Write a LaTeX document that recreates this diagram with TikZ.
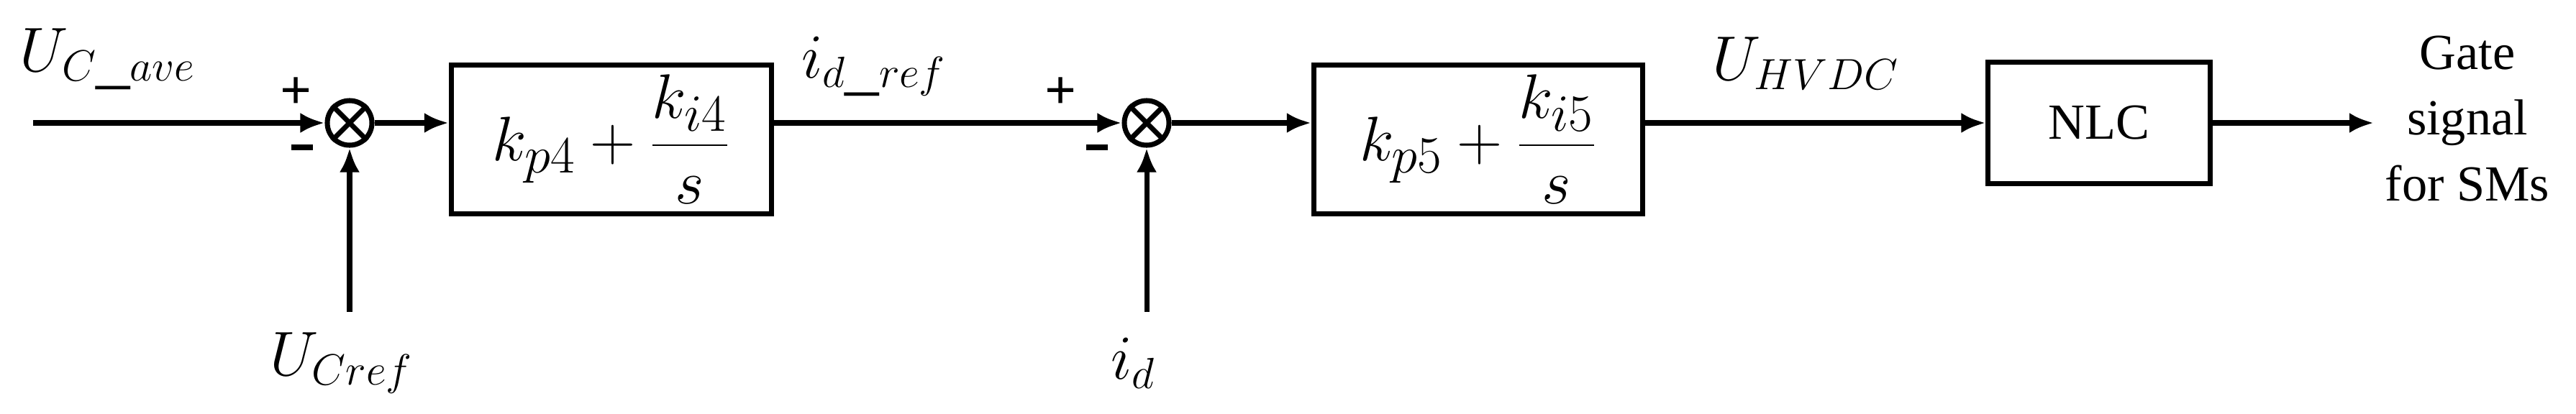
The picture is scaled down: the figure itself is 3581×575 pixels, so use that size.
\documentclass[tikz,border=0pt]{standalone}
\usepackage{fontspec}
\setmainfont{Liberation Serif}
\usetikzlibrary{arrows.meta}
\begin{document}
\begin{tikzpicture}[x=0.01cm,y=-0.01cm,
  line width=2pt,
  arr/.style={-{Latex[length=0.34cm,width=0.28cm]}},
  blk/.style={draw,line width=2pt,inner sep=0pt},
  sumc/.style={draw,circle,minimum size=0.62cm,inner sep=0pt,line width=2pt},
  lbl/.style={font=\fontsize{27}{30}\selectfont},
  sgn/.style={font=\bfseries\fontsize{22}{26}\selectfont}]
\useasboundingbox (0,0) rectangle (3581,575);
\node[sumc] (s1) at (486,171) {};
\draw (s1.45)--(s1.225) (s1.135)--(s1.-45);
\node[sumc] (s2) at (1594,171) {};
\draw (s2.45)--(s2.225) (s2.135)--(s2.-45);
\node[blk,minimum width=4.45cm,minimum height=2.06cm] (b1) at (850,194)
  {\fontsize{29}{32}\selectfont $\displaystyle k_{p4}+\frac{k_{i4}}{s}$};
\node[blk,minimum width=4.57cm,minimum height=2.06cm] (b2) at (2055,194)
  {\fontsize{29}{32}\selectfont $\displaystyle k_{p5}+\frac{k_{i5}}{s}$};
\node[blk,minimum width=3.08cm,minimum height=1.69cm,font=\fontsize{20}{22}\selectfont] (nlc) at (2918,171) {NLC};
\coordinate (in) at (46,171);
\coordinate (ucr) at (486,434);
\coordinate (idb) at (1594,434);
\coordinate (out) at (3300,171);
\draw[arr] (in)--(s1.west);
\draw[arr] (ucr)--(s1.south);
\draw[arr] (s1.east)--(s1.east-|b1.west);
\draw[arr] (s1.east-|b1.east)--(s2.west);
\draw[arr] (idb)--(s2.south);
\draw[arr] (s2.east)--(s2.east-|b2.west);
\draw[arr] (s2.east-|b2.east)--(nlc.west);
\draw[arr] (nlc.east)--(out);
\node[lbl] (l1) at (150,82) {$U_{C\_ave}$};
\node[lbl] (l2) at (475,505) {$U_{Cref}$};
\node[lbl] (l3) at (1215,92) {$i_{d\_ref}$};
\node[lbl] (l4) at (1575,505) {$i_{d}$};
\node[lbl] (l5) at (2510,88) {$U_{HVDC}$};
\node[sgn] (p1) at (412,130) {+};
\node[sgn] (m1) at (420,205) {\rule{0.3cm}{2.5pt}};
\node[sgn] (p2) at (1475,130) {+};
\node[sgn] (m2) at (1525,205) {\rule{0.3cm}{2.5pt}};
\node[align=center,font=\fontsize{20}{26}\selectfont] (g) at (3430,165) {Gate\\signal\\for SMs};
\end{tikzpicture}
\end{document}
